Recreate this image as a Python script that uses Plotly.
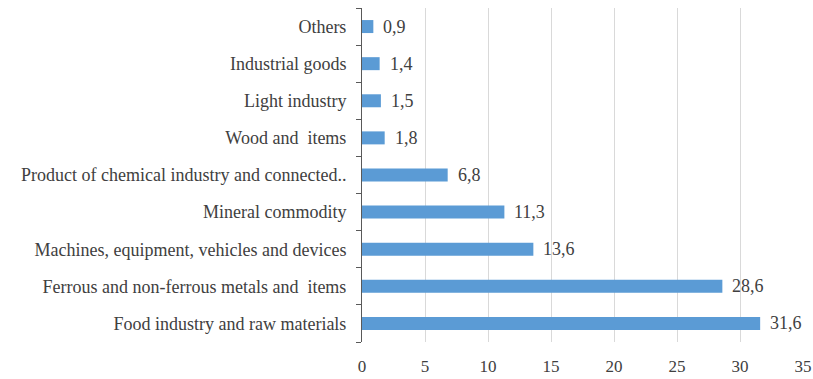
import plotly.graph_objects as go

categories = [
    "Food industry and raw materials",
    "Ferrous and non-ferrous metals and  items",
    "Machines, equipment, vehicles and devices",
    "Mineral commodity",
    "Product of chemical industry and connected..",
    "Wood and  items",
    "Light industry",
    "Industrial goods",
    "Others",
]
values = [31.6, 28.6, 13.6, 11.3, 6.8, 1.8, 1.5, 1.4, 0.9]
value_labels = [f"{v:.1f}".replace(".", ",") for v in values]
x_ticks = [0, 5, 10, 15, 20, 25, 30, 35]

FONT = "'Times New Roman', 'Liberation Serif', 'DejaVu Serif', serif"
TEXT = "#404040"

fig = go.Figure()
fig.add_trace(go.Bar(
    y=categories,
    x=values,
    orientation="h",
    marker=dict(color="#5B9BD5", line=dict(width=0)),
    hoverinfo="skip",
))

for c, v, t in zip(categories, values, value_labels):
    fig.add_annotation(
        x=v, y=c, text=t, showarrow=False,
        xanchor="left", yanchor="middle", xshift=8,
        font=dict(family=FONT, size=18, color=TEXT),
    )

fig.update_layout(
    template="none",
    width=813, height=379,
    margin=dict(l=362, r=10, t=8, b=37, autoexpand=False),
    paper_bgcolor="white",
    plot_bgcolor="white",
    showlegend=False,
    bargap=0.65,
    font=dict(family=FONT, color=TEXT),
)
fig.update_xaxes(
    automargin=False,
    range=[0, 35],
    tickvals=x_ticks,
    ticktext=[str(t) for t in x_ticks],
    showgrid=True, gridcolor="#D9D9D9", gridwidth=1,
    zeroline=False, showline=False, ticks="",
    tickfont=dict(family=FONT, size=17, color=TEXT),
    ticklabelstandoff=12,
)
fig.update_yaxes(
    automargin=False,
    type="category",
    categoryorder="array", categoryarray=categories,
    showline=True, linecolor="#595959", linewidth=1,
    ticks="outside", ticklen=5, tickcolor="#595959",
    tickson="boundaries",
    showgrid=False, zeroline=False,
    tickfont=dict(family=FONT, size=18, color=TEXT),
    ticklabelstandoff=11,
)

fig.write_html("out.html")
